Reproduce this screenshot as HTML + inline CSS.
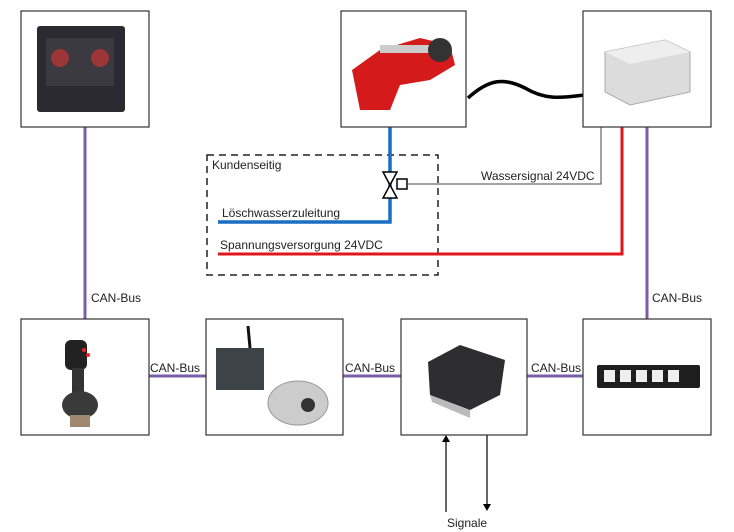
<!DOCTYPE html>
<html><head><meta charset="utf-8"><style>
html,body{margin:0;padding:0;background:#fff;width:734px;height:532px;overflow:hidden}
svg text{font-family:"Liberation Sans",sans-serif;font-size:12px;fill:#222}
</style></head><body>
<svg width="734" height="532" viewBox="0 0 734 532" xmlns="http://www.w3.org/2000/svg">
<g stroke="#7b5ea8" stroke-width="3" fill="none">
<line x1="85" y1="127" x2="85" y2="319"/>
<line x1="647" y1="127" x2="647" y2="319"/>
<line x1="149" y1="376" x2="206" y2="376"/>
<line x1="343" y1="376" x2="401" y2="376"/>
<line x1="527" y1="376" x2="583" y2="376"/>
</g>
<text x="91" y="302">CAN-Bus</text>
<text x="652" y="302">CAN-Bus</text>
<text x="150" y="372">CAN-Bus</text>
<text x="345" y="372">CAN-Bus</text>
<text x="531" y="372">CAN-Bus</text>
<rect x="207" y="155" width="231" height="120" fill="none" stroke="#222" stroke-width="1.5" stroke-dasharray="7,5"/>
<text x="212" y="169">Kundenseitig</text>
<polyline points="390,127 390,222 218,222" fill="none" stroke="#1a6fc4" stroke-width="3.5"/>
<text x="222" y="217">Löschwasserzuleitung</text>
<polyline points="622,127 622,254 218,254" fill="none" stroke="#e0161b" stroke-width="3"/>
<text x="220" y="249">Spannungsversorgung 24VDC</text>
<polygon points="383,172 397,172 390,185" fill="#fff" stroke="#000" stroke-width="1.5"/>
<polygon points="383,198 397,198 390,185" fill="#fff" stroke="#000" stroke-width="1.5"/>
<rect x="397" y="179" width="10" height="10" fill="#fff" stroke="#000" stroke-width="1.5"/>
<polyline points="407,184 601,184 601,127" fill="none" stroke="#444" stroke-width="1"/>
<text x="481" y="180">Wassersignal 24VDC</text>
<path d="M468,98 C490,78 505,78 525,88 C545,100 560,98 584,95" fill="none" stroke="#000" stroke-width="3.5"/>
<line x1="446" y1="512" x2="446" y2="440" stroke="#000" stroke-width="1.2"/>
<polygon points="442,442 450,442 446,435" fill="#000"/>
<line x1="487" y1="435" x2="487" y2="505" stroke="#000" stroke-width="1.2"/>
<polygon points="483,504 491,504 487,511" fill="#000"/>
<text x="447" y="527">Signale</text>
<g fill="#fff" stroke="#333" stroke-width="1.2">
<rect x="21" y="11" width="128" height="116"/>
<rect x="341" y="11" width="125" height="116"/>
<rect x="583" y="11" width="128" height="116"/>
<rect x="21" y="319" width="128" height="116"/>
<rect x="206" y="319" width="137" height="116"/>
<rect x="401" y="319" width="126" height="116"/>
<rect x="583" y="319" width="128" height="116"/>
</g>
<rect x="37" y="26" width="88" height="86" rx="3" fill="#2a2a30"/>
<rect x="46" y="38" width="68" height="48" fill="#3a3a40"/>
<g fill="#d33"><circle cx="60" cy="58" r="9" opacity=".6"/><circle cx="100" cy="58" r="9" opacity=".6"/></g>
<path d="M352,70 L380,50 L420,38 L450,45 L455,65 L430,80 L400,85 L390,110 L360,110 Z" fill="#d41a1a"/>
<rect x="380" y="45" width="60" height="8" fill="#ccc"/>
<circle cx="440" cy="50" r="12" fill="#333"/>
<polygon points="605,52 665,40 690,52 690,92 630,105 605,92" fill="#dcdcdc" stroke="#aaa"/>
<polygon points="605,52 665,40 690,52 630,64" fill="#eee"/>
<rect x="65" y="340" width="22" height="30" rx="6" fill="#222"/>
<rect x="72" y="368" width="12" height="30" fill="#333"/>
<ellipse cx="80" cy="405" rx="18" ry="14" fill="#3a3a3a"/>
<rect x="70" y="415" width="20" height="12" fill="#a08870"/>
<circle cx="84" cy="350" r="2" fill="#e22"/><circle cx="88" cy="355" r="2" fill="#e22"/>
<rect x="216" y="348" width="48" height="42" fill="#3c4448"/>
<line x1="250" y1="348" x2="248" y2="326" stroke="#111" stroke-width="3"/>
<ellipse cx="298" cy="403" rx="30" ry="22" fill="#ccc" stroke="#999"/>
<circle cx="308" cy="405" r="7" fill="#333"/>
<polygon points="428,362 460,345 505,360 500,395 470,410 430,395" fill="#2e2e30"/>
<polygon points="430,395 470,410 470,418 432,402" fill="#bbb"/>
<rect x="597" y="365" width="103" height="23" rx="2" fill="#1e1e1e"/>
<g fill="#eee"><rect x="604" y="370" width="11" height="12"/><rect x="620" y="370" width="11" height="12"/><rect x="636" y="370" width="11" height="12"/><rect x="652" y="370" width="11" height="12"/><rect x="668" y="370" width="11" height="12"/></g>
</svg>
</body></html>
